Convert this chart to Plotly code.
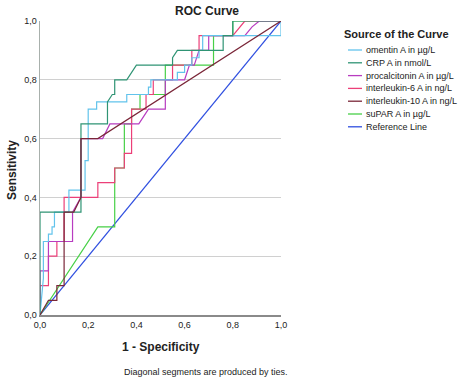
import plotly.graph_objects as go

# ---- data (1 - specificity, sensitivity) ----
omentin_x = [0, 0.014, 0.014, 0.035, 0.035, 0.05, 0.05, 0.06, 0.06, 0.12, 0.12, 0.187, 0.187, 0.20, 0.20, 0.235, 0.235, 0.36, 0.36, 0.45, 0.45, 0.46, 0.46, 0.57, 0.57, 0.60, 0.60, 0.63, 0.63, 0.66, 0.66, 0.675, 0.675, 1.0, 1.0]
omentin_y = [0, 0.125, 0.25, 0.25, 0.275, 0.275, 0.30, 0.30, 0.35, 0.35, 0.425, 0.425, 0.525, 0.525, 0.70, 0.70, 0.725, 0.725, 0.75, 0.75, 0.775, 0.775, 0.80, 0.80, 0.825, 0.825, 0.85, 0.85, 0.875, 0.875, 0.90, 0.90, 0.95, 0.95, 1.0]

crp_x = [0, 0, 0.17, 0.17, 0.28, 0.28, 0.30, 0.31, 0.31, 0.36, 0.40, 0.55, 0.55, 0.57, 0.76, 0.76, 0.80, 0.80, 1.0]
crp_y = [0, 0.35, 0.35, 0.65, 0.65, 0.725, 0.75, 0.75, 0.80, 0.80, 0.85, 0.85, 0.875, 0.90, 0.90, 0.95, 0.95, 1.0, 1.0]

procal_x = [0, 0, 0.035, 0.035, 0.135, 0.135, 0.17, 0.17, 0.24, 0.26, 0.29, 0.41, 0.45, 0.52, 0.52, 0.60, 0.62, 0.64, 0.66, 0.70, 0.70, 0.85, 0.88, 0.91, 1.0]
procal_y = [0, 0.15, 0.15, 0.25, 0.25, 0.35, 0.40, 0.60, 0.60, 0.60, 0.65, 0.65, 0.70, 0.70, 0.80, 0.80, 0.85, 0.85, 0.90, 0.90, 0.95, 0.95, 0.98, 1.0, 1.0]

il6_x = [0, 0, 0.035, 0.035, 0.07, 0.07, 0.10, 0.10, 0.24, 0.24, 0.31, 0.31, 0.35, 0.35, 0.38, 0.38, 0.44, 0.44, 0.47, 0.47, 0.55, 0.55, 0.63, 0.63, 0.66, 0.66, 0.80, 0.85, 1.0]
il6_y = [0, 0.10, 0.10, 0.20, 0.20, 0.25, 0.25, 0.40, 0.40, 0.45, 0.45, 0.50, 0.50, 0.55, 0.55, 0.70, 0.70, 0.75, 0.75, 0.80, 0.80, 0.85, 0.85, 0.90, 0.90, 0.95, 0.95, 1.0, 1.0]

il10_x = [0, 0.035, 0.07, 0.07, 0.10, 0.10, 0.14, 0.17, 0.17, 0.24, 1.0]
il10_y = [0, 0.05, 0.05, 0.10, 0.10, 0.35, 0.35, 0.40, 0.60, 0.60, 1.0]

supar_x = [0, 0.24, 0.31, 0.31, 0.35, 0.35, 0.38, 0.38, 0.415, 0.415, 0.52, 0.52, 0.72, 0.72, 0.80, 0.80, 1.0]
supar_y = [0, 0.30, 0.30, 0.50, 0.50, 0.65, 0.65, 0.70, 0.70, 0.75, 0.75, 0.85, 0.85, 0.95, 0.95, 1.0, 1.0]

ref_x = [0, 1]
ref_y = [0, 1]

names = ["omentin A in µg/L", "CRP A in nmol/L", "procalcitonin A in µg/L",
         "interleukin-6 A in ng/L", "interleukin-10 A in ng/L", "suPAR A in µg/L",
         "Reference Line"]
colors = ["#62C3EC", "#2F9474", "#B83CC0", "#EC3F78", "#7A2638", "#47D047", "#2F4FE0"]
xs = [omentin_x, crp_x, procal_x, il6_x, il10_x, supar_x, ref_x]
ys = [omentin_y, crp_y, procal_y, il6_y, il10_y, supar_y, ref_y]

tick_vals = [0, 0.2, 0.4, 0.6, 0.8, 1.0]
tick_text = ["0,0", "0,2", "0,4", "0,6", "0,8", "1,0"]

fig = go.Figure()
order = [6, 5, 3, 2, 0, 1, 4]
for i in order:
    fig.add_trace(go.Scatter(x=xs[i], y=ys[i], mode="lines", name=names[i],
                             line=dict(color=colors[i], width=1.2), showlegend=False))

font_main = "Liberation Sans, Arial, sans-serif"
font_narrow = "Liberation Sans Narrow, Liberation Sans, Arial"
fig.update_layout(
    width=474, height=383,
    margin=dict(l=40, r=193, t=21, b=68),
    paper_bgcolor="white", plot_bgcolor="white",
    font=dict(family=font_main, size=9, color="#222"),
    xaxis=dict(range=[0, 1], tickvals=tick_vals, ticktext=tick_text, showgrid=False,
               zeroline=False, showline=True, linecolor="#8a8a8a", linewidth=2,
               ticks="", tickfont=dict(size=9), fixedrange=True),
    yaxis=dict(range=[0, 1], tickvals=tick_vals, ticktext=tick_text, showgrid=True,
               gridcolor="#d0d0d0", gridwidth=1, zeroline=False, showline=True,
               linecolor="#a8b0ac", linewidth=1.5, ticks="", tickfont=dict(size=9),
               fixedrange=True),
)

def px_to_paper(px, py):
    # page pixel -> paper coords (plot area spans page x 40..281, y 21..315)
    return (px - 40) / 241.0, (315 - py) / 294.0

def text_at(txt, px, py, size, family=font_main, xanchor="center", angle=0):
    x, y = px_to_paper(px, py)
    fig.add_annotation(text=txt, x=x, y=y, xref="paper", yref="paper", showarrow=False,
                       xanchor=xanchor, yanchor="middle", textangle=angle,
                       font=dict(size=size, family=family))

text_at("<b>ROC Curve</b>", 207, 11, 12)
text_at("<b>Sensitivity</b>", 12, 170, 12, angle=-90)
text_at("<b>1 - Specificity</b>", 161, 347, 12)
text_at("Diagonal segments are produced by ties.", 206, 372, 9, family=font_narrow)

# legend (manual)
text_at("<b>Source of the Curve</b>", 396, 34, 11)
for k, (nm, c) in enumerate(zip(names, colors)):
    py = 50 + k * 12.8
    x0, y0 = px_to_paper(348, py)
    x1, _ = px_to_paper(362, py)
    fig.add_shape(type="line", x0=x0, x1=x1, y0=y0, y1=y0, xref="paper", yref="paper",
                  line=dict(color=c, width=1.3))
    text_at(nm, 364, py, 9, family=font_narrow, xanchor="left")

fig.write_html("out.html", config={"displayModeBar": False, "staticPlot": True})

# remove default browser body margin so the figure sits at the page origin
with open("out.html", "r", encoding="utf-8") as f:
    html = f.read()
html = html.replace("<head>", "<head><style>html,body{margin:0;padding:0;}</style>", 1)
with open("out.html", "w", encoding="utf-8") as f:
    f.write(html)
